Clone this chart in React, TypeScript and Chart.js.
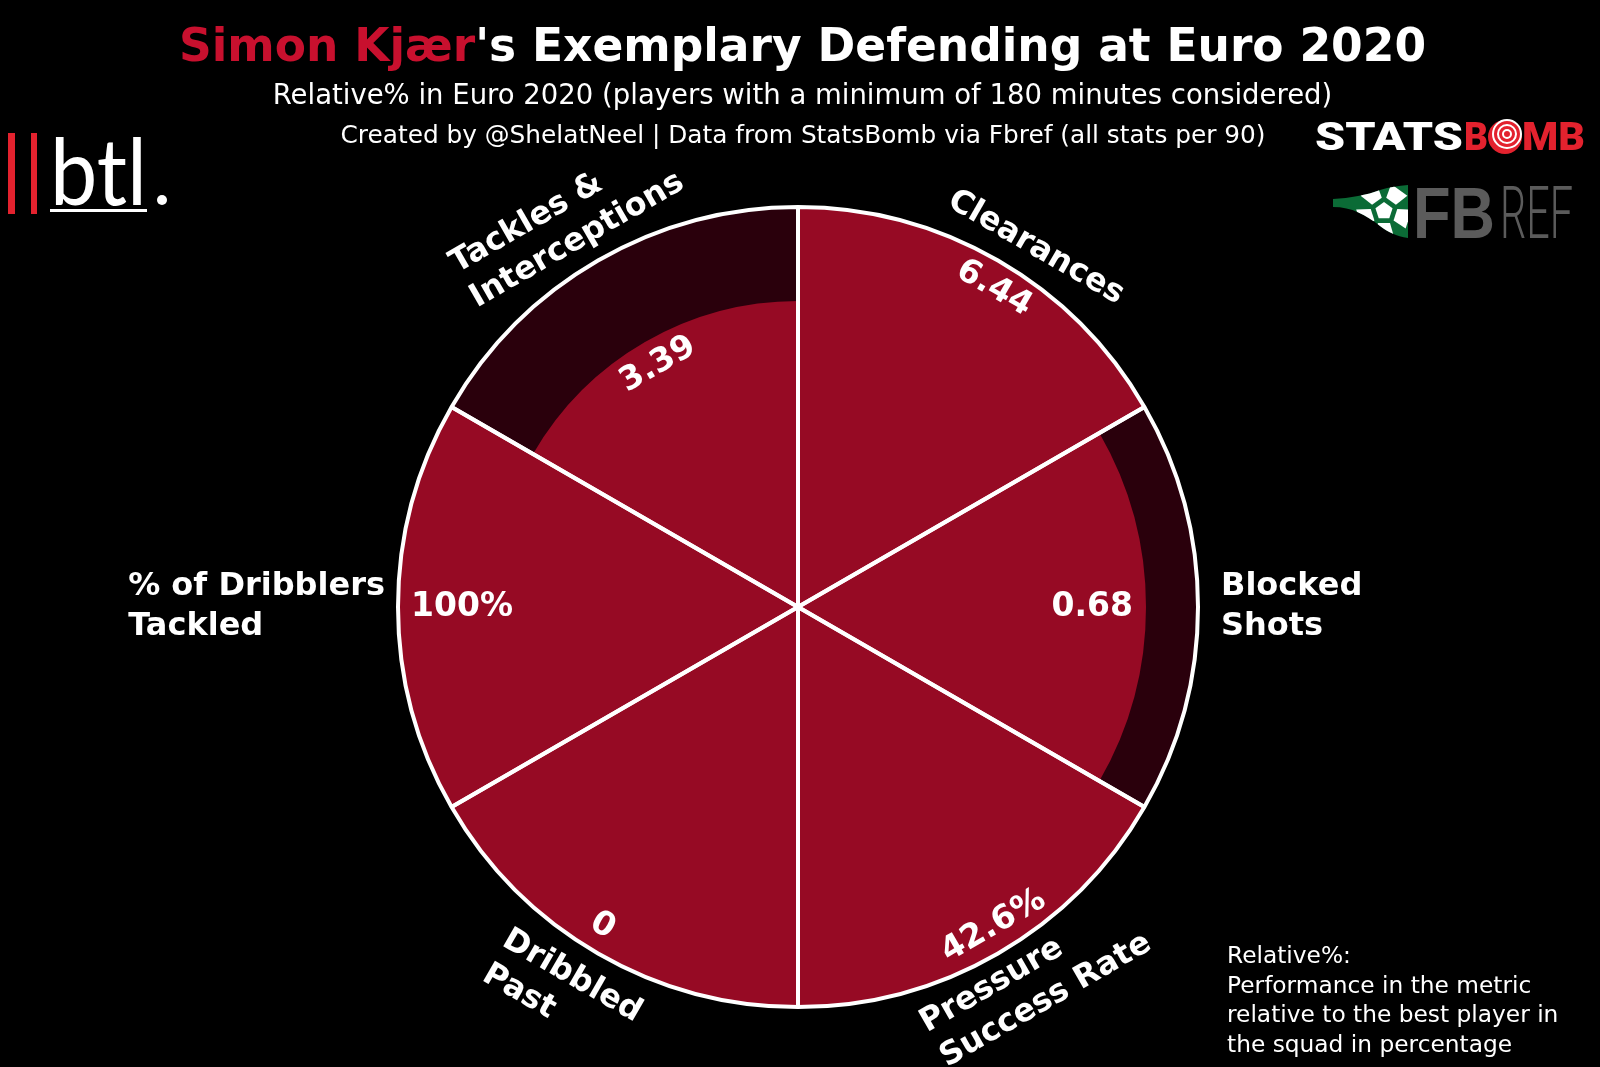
import React, { useEffect, useRef } from "react";
import { Chart, registerables } from "chart.js";

Chart.register(...registerables);

// ---------- data ----------
const categories: string[][] = [
  ["Clearances"],
  ["Blocked", "Shots"],
  ["Pressure", "Success Rate"],
  ["Dribbled", "Past"],
  ["% of Dribblers", "Tackled"],
  ["Tackles &", "Interceptions"],
];
const relativeValues = [100, 87, 100, 100, 100, 76.5];
const fullScale = [100, 100, 100, 100, 100, 100];
const valueLabels = ["6.44", "0.68", "42.6%", "0", "100%", "3.39"];

const titleRed = "Simon Kjær";
const titleRest = "'s Exemplary Defending at Euro 2020";
const subtitle = "Relative% in Euro 2020 (players with a minimum of 180 minutes considered)";
const credit = "Created by @ShelatNeel | Data from StatsBomb via Fbref (all stats per 90)";
const noteLines = [
  "Relative%:",
  "Performance in the metric",
  "relative to the best player in",
  "the squad in percentage",
];

// ---------- styles / layout ----------
const W = 1600;
const H = 1067;
const RED = "#960A24";
const DARK = "#2A000C";
const TITLE_RED = "#C8102E";
const LOGO_RED = "#E3222E";
const FONT = "'DejaVu Sans', 'Liberation Sans', sans-serif";
// category label placement: distance from centre and angular shift (deg), or edge distance for horizontal ones
const LABEL_PLACE = [
  { dist: 431, shift: 3.5 },
  { edge: 423 },
  { dist: 445, shift: -2.3 },
  { dist: 453, shift: 1.4 },
  { edge: 413 },
  { dist: 448, shift: -1 },
];
const VALUE_SHIFT = [1.6, 0, -1.5, 1.5, 0, 0];

function fitText(ctx: CanvasRenderingContext2D, text: string, x: number, y: number, width: number) {
  const w = ctx.measureText(text).width;
  ctx.save();
  ctx.translate(x, y);
  ctx.scale(width / w, 1);
  ctx.textAlign = "left";
  ctx.textBaseline = "alphabetic";
  ctx.fillText(text, 0, 0);
  ctx.restore();
}

function drawBlock(ctx: CanvasRenderingContext2D, lines: string[], cx: number, cy: number, rotDeg: number, lh: number) {
  ctx.save();
  ctx.translate(cx, cy);
  ctx.rotate((rotDeg * Math.PI) / 180);
  const w = Math.max(...lines.map((l) => ctx.measureText(l).width));
  ctx.textAlign = "left";
  ctx.textBaseline = "middle";
  lines.forEach((l, k) => ctx.fillText(l, -w / 2, (k - (lines.length - 1) / 2) * lh));
  ctx.restore();
}

function rotationFor(thetaDeg: number) {
  if (Math.abs(thetaDeg - 90) < 1 || Math.abs(thetaDeg - 270) < 1) return 0;
  if (thetaDeg > 90 && thetaDeg < 270) return thetaDeg - 180;
  if (thetaDeg >= 270) return thetaDeg - 360;
  return thetaDeg;
}

function drawLogos(ctx: CanvasRenderingContext2D) {
  // btl.
  ctx.fillStyle = LOGO_RED;
  ctx.fillRect(8, 133, 7, 81);
  ctx.fillRect(31, 133, 6, 81);
  ctx.fillStyle = "#fff";
  ctx.font = "400 94px Lato, 'Open Sans', sans-serif";
  fitText(ctx, "btl", 50, 205, 97);
  ctx.fillRect(50, 209, 97, 3);
  ctx.beginPath();
  ctx.arc(162, 200, 5, 0, Math.PI * 2);
  ctx.fill();

  // STATSBOMB
  ctx.font = "900 38px Roboto, 'Liberation Sans', sans-serif";
  ctx.fillStyle = "#fff";
  fitText(ctx, "STATS", 1315, 150, 148);
  ctx.fillStyle = LOGO_RED;
  fitText(ctx, "B", 1464, 150, 24);
  fitText(ctx, "MB", 1522, 150, 63);
  ctx.beginPath();
  ctx.arc(1505, 137, 17, 0, Math.PI * 2);
  ctx.fill();
  ctx.strokeStyle = "#fff";
  ctx.lineWidth = 2;
  [4, 9, 14].forEach((r) => {
    ctx.beginPath();
    ctx.arc(1507, 134, r, 0, Math.PI * 2);
    ctx.stroke();
  });

  // FBREF flag
  ctx.save();
  ctx.beginPath();
  ctx.moveTo(1333, 199);
  ctx.bezierCurveTo(1350, 198, 1367, 195, 1380, 190);
  ctx.bezierCurveTo(1390, 187, 1398, 186, 1408, 185);
  ctx.lineTo(1408, 238);
  ctx.bezierCurveTo(1396, 236, 1388, 232, 1380, 226);
  ctx.bezierCurveTo(1366, 215, 1352, 207, 1333, 207);
  ctx.closePath();
  ctx.fillStyle = "#0B6B36";
  ctx.fill();
  ctx.clip();
  ctx.fillStyle = "#fff";
  const bx = 1384, by = 211;
  const poly = (pts: number[][]) => {
    ctx.beginPath();
    pts.forEach((p, i) => (i ? ctx.lineTo(p[0], p[1]) : ctx.moveTo(p[0], p[1])));
    ctx.closePath();
    ctx.fill();
  };
  const pent: number[][] = [];
  for (let k = 0; k < 5; k++) {
    const a = -Math.PI / 2 + (k * 2 * Math.PI) / 5;
    pent.push([bx + 9 * Math.cos(a), by + 9 * Math.sin(a)]);
  }
  poly(pent);
  for (let k = 0; k < 5; k++) {
    const a = Math.PI / 2 + (k * 2 * Math.PI) / 5;
    const c = Math.cos(a), s = Math.sin(a);
    const px = -s, py = c;
    const r1 = 12, r2 = 26, hw1 = 6, hw2 = 10;
    poly([
      [bx + c * r1 + px * hw1, by + s * r1 + py * hw1],
      [bx + c * r2 + px * hw2, by + s * r2 + py * hw2],
      [bx + c * r2 - px * hw2, by + s * r2 - py * hw2],
      [bx + c * r1 - px * hw1, by + s * r1 - py * hw1],
    ]);
  }
  ctx.restore();
  ctx.fillStyle = "#5B5B5B";
  ctx.font = "bold 73px 'Liberation Sans', sans-serif";
  fitText(ctx, "FB", 1413, 238, 82);
  ctx.font = "300 73px Roboto, 'Liberation Sans', sans-serif";
  fitText(ctx, "REF", 1500, 238, 73);
}

const decorPlugin = {
  id: "pizzaDecor",
  beforeDraw(chart: any) {
    const ctx: CanvasRenderingContext2D = chart.ctx;
    ctx.save();
    ctx.fillStyle = "#000";
    ctx.fillRect(0, 0, chart.width, chart.height);

    // title
    ctx.font = `bold 45.5px ${FONT}`;
    ctx.textBaseline = "alphabetic";
    ctx.textAlign = "left";
    const w1 = ctx.measureText(titleRed).width;
    const w2 = ctx.measureText(titleRest).width;
    const x = 802.5 - (w1 + w2) / 2;
    ctx.fillStyle = TITLE_RED;
    ctx.fillText(titleRed, x, 61);
    ctx.fillStyle = "#fff";
    ctx.fillText(titleRest, x + w1, 61);

    ctx.textAlign = "center";
    ctx.font = `27.5px ${FONT}`;
    ctx.fillText(subtitle, 802.5, 104);
    ctx.font = `24.8px ${FONT}`;
    ctx.fillText(credit, 803, 143);

    // note
    ctx.textAlign = "left";
    ctx.font = `23.3px ${FONT}`;
    noteLines.forEach((l, k) => ctx.fillText(l, 1227, 963 + k * 29.5));

    drawLogos(ctx);
    ctx.restore();
  },
  afterDatasetsDraw(chart: any) {
    const ctx: CanvasRenderingContext2D = chart.ctx;
    const meta = chart.getDatasetMeta(1);
    ctx.save();
    ctx.fillStyle = "#fff";
    meta.data.forEach((el: any, i: number) => {
      const { x, y, startAngle, endAngle, outerRadius } = el.getProps(["x", "y", "startAngle", "endAngle", "outerRadius"], true);
      const mid = (startAngle + endAngle) / 2;
      let theta = ((mid * 180) / Math.PI + 90) % 360;
      if (theta < 0) theta += 360;
      const rot = rotationFor(theta);
      const horizontal = Math.abs(theta - 90) < 1 || Math.abs(theta - 270) < 1;

      // value label
      ctx.font = `bold 33px ${FONT}`;
      if (horizontal) {
        const d = outerRadius - 13;
        ctx.textAlign = theta < 180 ? "right" : "left";
        ctx.textBaseline = "middle";
        ctx.fillText(valueLabels[i], x + d * Math.cos(mid), y + d * Math.sin(mid));
      } else {
        const d = outerRadius - 26;
        const va = mid + (VALUE_SHIFT[i] * Math.PI) / 180;
        ctx.save();
        ctx.translate(x + d * Math.cos(va), y + d * Math.sin(va));
        ctx.rotate((rot * Math.PI) / 180);
        ctx.textAlign = "center";
        ctx.textBaseline = "middle";
        ctx.fillText(valueLabels[i], 0, 0);
        ctx.restore();
      }

      // category label
      ctx.font = `bold 32px ${FONT}`;
      const place: any = LABEL_PLACE[i];
      const lines = categories[i];
      if (horizontal) {
        const bw = Math.max(...lines.map((l) => ctx.measureText(l).width));
        const left = theta < 180 ? x + place.edge : x - place.edge - bw;
        ctx.textAlign = "left";
        ctx.textBaseline = "middle";
        lines.forEach((l, k) => ctx.fillText(l, left, y + (k - (lines.length - 1) / 2) * 40));
      } else {
        const a = mid + (place.shift * Math.PI) / 180;
        drawBlock(ctx, lines, x + place.dist * Math.cos(a), y + place.dist * Math.sin(a), rot, 40);
      }
    });
    ctx.restore();
  },
};

export default function App() {
  const ref = useRef<HTMLCanvasElement>(null);
  useEffect(() => {
    const chart = new Chart(ref.current as HTMLCanvasElement, {
      type: "polarArea",
      data: {
        labels: categories.map((c) => c.join(" ")),
        datasets: [
          { data: fullScale, backgroundColor: "rgba(0,0,0,0)", borderColor: "#ffffff", borderWidth: 4 },
          { data: relativeValues, backgroundColor: RED, borderWidth: 0 },
          { data: fullScale, backgroundColor: DARK, borderWidth: 0 },
        ],
      },
      options: {
        responsive: false,
        animation: false,
        layout: { padding: { left: 398, right: 402, top: 207, bottom: 60 } },
        plugins: { legend: { display: false }, tooltip: { enabled: false } },
        scales: {
          r: {
            display: false,
            min: 0,
            max: 100,
            ticks: { display: false },
            grid: { display: false },
            angleLines: { display: false },
            pointLabels: { display: false },
          },
        },
      },
      plugins: [decorPlugin],
    } as any);
    return () => chart.destroy();
  }, []);
  return (
    <div style={{ position: "fixed", left: 0, top: 0, width: W, height: H, background: "#000" }}>
      <canvas ref={ref} width={W} height={H} style={{ display: "block", width: W, height: H }} />
    </div>
  );
}
